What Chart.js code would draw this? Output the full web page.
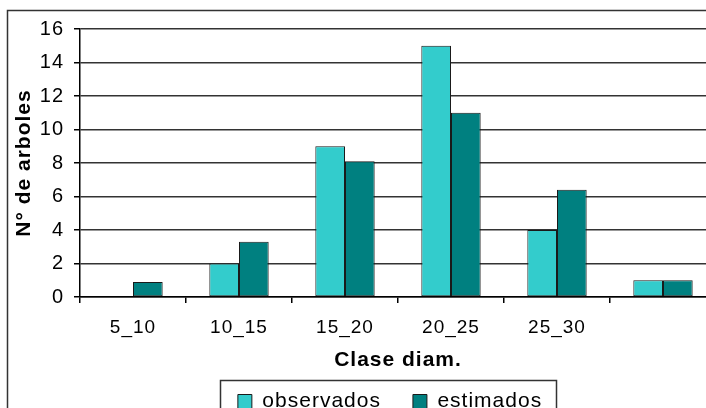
<!DOCTYPE html>
<html>
<head>
<meta charset="utf-8">
<style>
  html, body { margin: 0; padding: 0; background: #fff; overflow: hidden; width: 706px; height: 408px; }
  canvas { display: block; }
</style>
<script src="https://cdn.jsdelivr.net/npm/chart.js@4.4.1/dist/chart.umd.min.js"></script>
</head>
<body>
<canvas id="chart" width="780" height="430"></canvas>
<script>
// Diameter classes and tree counts
const categories = ['5_10', '10_15', '15_20', '20_25', '25_30', ''];
const observados = [0, 2, 9, 15, 4, 1];
const estimados = [0.9, 3.3, 8.1, 11.0, 6.4, 1.0];
const seriesNames = ['observados', 'estimados'];
const seriesColors = ['#33CCCC', '#008080'];
const yMin = 0;
const yMax = 16;
const yStep = 2;
const xTitle = 'Clase diam.';
const yTitle = 'N\u00b0 de arboles';

const FONT = '"Liberation Sans", Arial, Helvetica, sans-serif';
const SPACING = '1px';

// Letter spacing for all text, plus the outer frame of the figure
const framePlugin = {
  id: 'frame',
  beforeUpdate(chart) { chart.ctx.letterSpacing = SPACING; },
  beforeDraw(chart) {
    const c = chart.ctx;
    c.letterSpacing = SPACING;
    c.save();
    c.fillStyle = '#fff';
    c.fillRect(0, 0, chart.width, chart.height);
    c.strokeStyle = '#333';
    c.lineWidth = 1.5;
    c.strokeRect(7.5, 10.5, chart.width, chart.height);
    c.restore();
  },
  afterDraw(chart) {
    // box around the legend entries
    const hb = chart.legend.legendHitBoxes;
    if (!hb || !hb.length) return;
    const last = hb[hb.length - 1];
    const l = Math.round(hb[0].left - 18);
    const r = Math.round(last.left + last.width + 14);
    const t = Math.round(hb[0].top - 11);
    const c = chart.ctx;
    c.save();
    c.strokeStyle = '#333';
    c.lineWidth = 1.5;
    c.strokeRect(l + 0.5, t + 0.5, r - l, 80);
    c.restore();
  }
};

new Chart(document.getElementById('chart'), {
  type: 'bar',
  data: {
    labels: categories,
    datasets: [
      { label: seriesNames[0], data: observados, backgroundColor: seriesColors[0], borderColor: '#1a1a1a', borderWidth: 1, borderSkipped: false },
      { label: seriesNames[1], data: estimados, backgroundColor: seriesColors[1], borderColor: '#1a1a1a', borderWidth: 1, borderSkipped: false }
    ]
  },
  options: {
    responsive: false,
    animation: false,
    devicePixelRatio: 1,
    layout: { padding: { top: 29, left: 0, right: 0, bottom: 8 } },
    datasets: { bar: { categoryPercentage: 0.56, barPercentage: 1 } },
    plugins: {
      tooltip: { enabled: false },
      legend: {
        position: 'bottom',
        labels: {
          boxWidth: 14,
          boxHeight: 14,
          padding: 32,
          color: '#000',
          font: { family: FONT, size: 21 }
        }
      }
    },
    scales: {
      x: {
        offset: true,
        border: { display: true, color: '#000', width: 1.5 },
        grid: { display: true, drawOnChartArea: false, drawTicks: true, tickLength: 6, color: '#000', tickColor: '#000', lineWidth: 1.5 },
        ticks: { color: '#000', padding: 13, maxRotation: 0, font: { family: FONT, size: 19 } },
        title: { display: true, text: xTitle, color: '#000', padding: { top: 0, bottom: -14 }, font: { family: FONT, size: 21, weight: 'bold' } },
        afterFit(scale) { scale.height = 62; }
      },
      y: {
        min: yMin,
        max: yMax,
        border: { display: true, color: '#000', width: 1.5 },
        grid: { color: '#333', lineWidth: 1.5, drawTicks: true, tickLength: 6, tickColor: '#000' },
        ticks: { stepSize: yStep, color: '#000', padding: 10, font: { family: FONT, size: 20 } },
        title: { display: true, text: yTitle, color: '#000', padding: { top: 12, bottom: 0 }, font: { family: FONT, size: 21, weight: 'bold' } },
        afterFit(scale) { scale.width = 80; }
      },
      yRight: {
        position: 'right',
        display: true,
        grid: { display: false },
        border: { display: false },
        ticks: { display: false },
        afterFit(scale) { scale.width = 64; }
      }
    }
  },
  plugins: [framePlugin]
});
</script>
</body>
</html>
